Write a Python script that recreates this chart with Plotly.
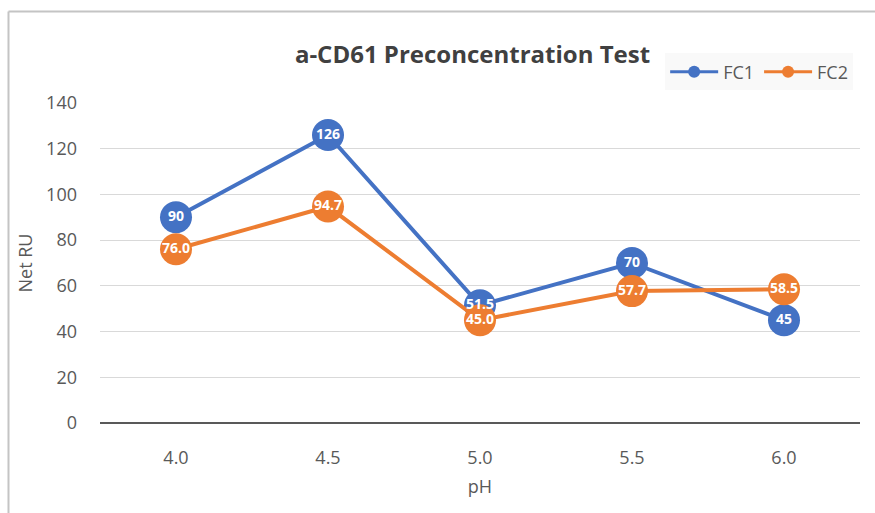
import plotly.graph_objects as go

# pH values tested and net response units for each flow cell
ph_labels = ["4.0", "4.5", "5.0", "5.5", "6.0"]
fc1_values = [90, 126, 51.5, 70, 45]
fc2_values = [76.0, 94.7, 45.0, 57.7, 58.5]

y_ticks = [0, 20, 40, 60, 80, 100, 120, 140]

BLUE = "#4472C4"
ORANGE = "#ED7D31"
FONT = "Open Sans"

fc1_text = [f"{v:g}" for v in fc1_values]
fc2_text = [f"{v:.1f}" for v in fc2_values]

series = [("FC1", fc1_values, fc1_text, BLUE), ("FC2", fc2_values, fc2_text, ORANGE)]

fig = go.Figure()

for name, vals, _, color in series:
    fig.add_trace(go.Scatter(
        x=ph_labels, y=vals, name=name, mode="lines+markers",
        line=dict(color=color, width=4),
        marker=dict(color=color, size=32),
        cliponaxis=False, showlegend=False,
    ))

# value labels sit above every marker
for _, vals, txt, _ in series:
    fig.add_trace(go.Scatter(
        x=ph_labels, y=vals, text=txt, mode="text", showlegend=False,
        textposition="middle center", hoverinfo="skip",
        textfont=dict(family=FONT, size=14, color="white", weight="bold"),
        cliponaxis=False,
    ))

# legend entries with compact symbols
for name, _, _, color in series:
    fig.add_trace(go.Scatter(
        x=[None], y=[None], name=name, mode="lines+markers",
        line=dict(color=color, width=3), marker=dict(color=color, size=12),
    ))

# outer chart frame (left and top edges)
fig.add_shape(type="line", xref="paper", yref="paper",
              x0=-0.1204, x1=-0.1204, y0=-0.5, y1=1.2859,
              line=dict(color="#c4c4c4", width=2))
fig.add_shape(type="line", xref="paper", yref="paper",
              x0=-0.1204, x1=1.5, y0=1.2859, y1=1.2859,
              line=dict(color="#c4c4c4", width=2))

fig.update_layout(
    width=875, height=513,
    margin=dict(l=100, r=15, t=103, b=90),
    paper_bgcolor="white", plot_bgcolor="white",
    font=dict(family=FONT, color="#595959", size=18),
    title=dict(text="<b>a-CD61 Preconcentration Test</b>",
               x=0.54, xanchor="center", y=0.893, yanchor="middle",
               font=dict(family=FONT, size=24, color="#404040")),
    legend=dict(orientation="h", x=0.991, xanchor="right", y=1.097, yanchor="middle",
                bgcolor="#f9f9f9", font=dict(family=FONT, size=18, color="#595959"),
                itemwidth=48, traceorder="normal"),
    showlegend=True,
)

fig.update_xaxes(
    type="category", range=[-0.5, 4.5],
    showgrid=False, showline=False, zeroline=False,
    ticks="", ticklabelstandoff=22,
    title=dict(text="pH", standoff=12, font=dict(size=18, color="#595959")),
)
fig.update_yaxes(
    range=[0, 140], tickvals=y_ticks,
    showgrid=True, gridcolor="#d9d9d9", gridwidth=1,
    zeroline=True, zerolinecolor="#595959", zerolinewidth=2,
    showline=False, ticks="", ticklabelstandoff=22,
    title=dict(text="Net RU", standoff=8, font=dict(size=18, color="#595959")),
)

fig.write_html("out.html")
